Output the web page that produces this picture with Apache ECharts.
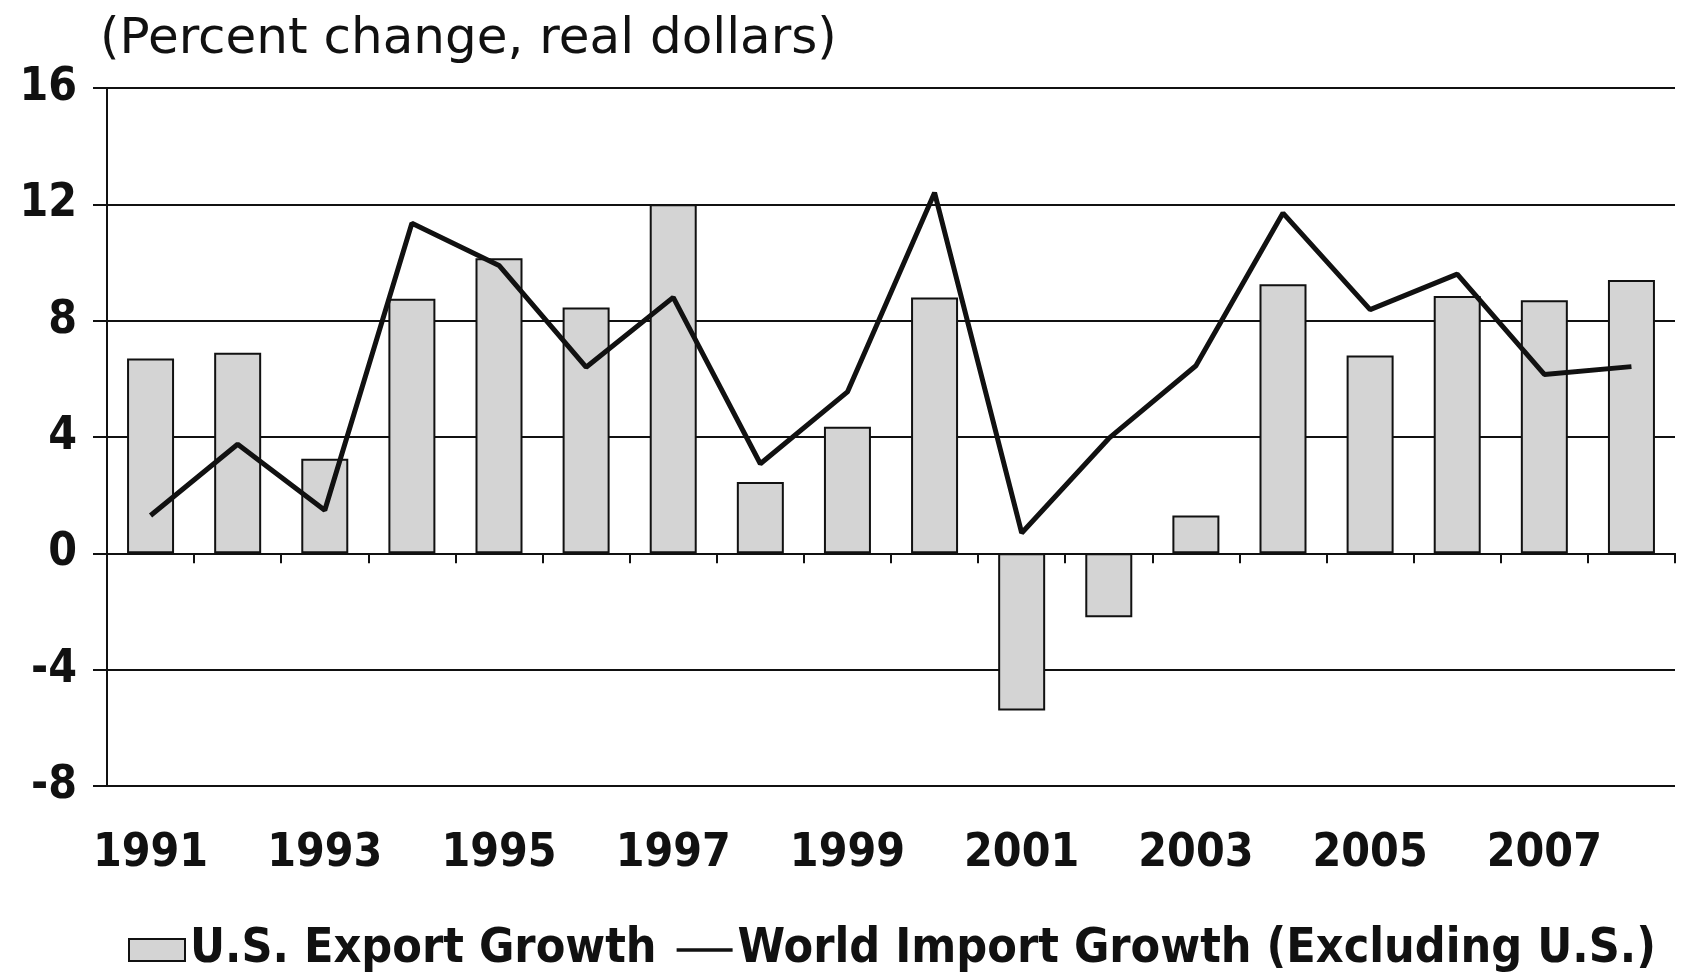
<!DOCTYPE html>
<html>
<head>
<meta charset="utf-8">
<script src="https://cdn.jsdelivr.net/npm/echarts@6/dist/echarts.min.js"></script>
<style>
html,body{margin:0;padding:0;background:#ffffff;}
#chart{width:1681px;height:972px;}
</style>
</head>
<body>
<div id="chart"></div>
<script>
const years = ['1991','1992','1993','1994','1995','1996','1997','1998','1999','2000','2001','2002','2003','2004','2005','2006','2007','2008'];
const usExportGrowth = [6.7, 6.9, 3.25, 8.75, 10.15, 8.45, 12.0, 2.45, 4.35, 8.8, -5.4, -2.2, 1.3, 9.25, 6.8, 8.85, 8.7, 9.4];
const worldImportGrowth = [1.3, 3.75, 1.48, 11.35, 9.9, 6.4, 8.8, 3.08, 5.55, 12.4, 0.7, 3.95, 6.45, 11.7, 8.38, 9.6, 6.15, 6.42];
const yTicks = {min: -8, max: 16, interval: 4};
const titleText = '(Percent change, real dollars)';
const exportName = 'U.S. Export Growth';
const importName = 'World Import Growth (Excluding U.S.)';

const boldFont = '"DejaVu Sans Condensed", "DejaVu Sans", sans-serif';
const chart = echarts.init(document.getElementById('chart'), null, {renderer: 'canvas'});
chart.setOption({
  backgroundColor: '#ffffff',
  animation: false,
  title: {
    text: titleText,
    left: 100, top: 15,
    padding: 0,
    textStyle: {fontFamily: '"DejaVu Sans", sans-serif', fontWeight: 'normal', fontSize: 50, color: '#111'}
  },
  legend: {
    left: 128, top: 926, padding: 0,
    itemWidth: 56, itemHeight: 22, itemGap: 20,
    textStyle: {fontFamily: boldFont, fontWeight: 'bold', fontSize: 48, color: '#111'},
    data: [
      {name: exportName, icon: 'rect'},
      {name: importName, icon: 'path://M0,0H100V6H0Z'}
    ]
  },
  grid: {left: 107, right: 6, top: 88, bottom: 186, containLabel: false},
  xAxis: [
    {
      type: 'category', data: years, position: 'bottom',
      axisLine: {onZero: true, lineStyle: {color: '#111', width: 2}},
      axisTick: {show: true, alignWithLabel: false, interval: 0, length: 10, inside: false, lineStyle: {color: '#111', width: 2}},
      axisLabel: {show: false},
      splitLine: {show: false}
    },
    {
      type: 'category', data: years, position: 'bottom', offset: 0,
      axisLine: {show: false, onZero: false},
      axisTick: {show: false},
      axisLabel: {show: true, interval: 1, margin: 45, fontFamily: boldFont, fontWeight: 'bold', fontSize: 46, color: '#111'}
    }
  ],
  yAxis: {
    type: 'value', min: yTicks.min, max: yTicks.max, interval: yTicks.interval,
    axisLine: {show: true, lineStyle: {color: '#111', width: 2}},
    axisTick: {show: true, length: 14, lineStyle: {color: '#111', width: 2}},
    axisLabel: {margin: 30, fontFamily: boldFont, fontWeight: 'bold', fontSize: 46, color: '#111'},
    splitLine: {show: true, lineStyle: {color: '#111', width: 2}}
  },
  series: [
    {
      name: exportName, type: 'bar', xAxisIndex: 0, data: usExportGrowth,
      barWidth: 47,
      itemStyle: {color: '#d4d4d4', borderColor: '#111', borderWidth: 2},
      z: 2
    },
    {
      name: importName, type: 'line', xAxisIndex: 0, data: worldImportGrowth,
      symbol: 'none', showSymbol: false,
      lineStyle: {color: '#111', width: 5},
      itemStyle: {color: '#111'},
      z: 3
    }
  ]
});
</script>
</body>
</html>
